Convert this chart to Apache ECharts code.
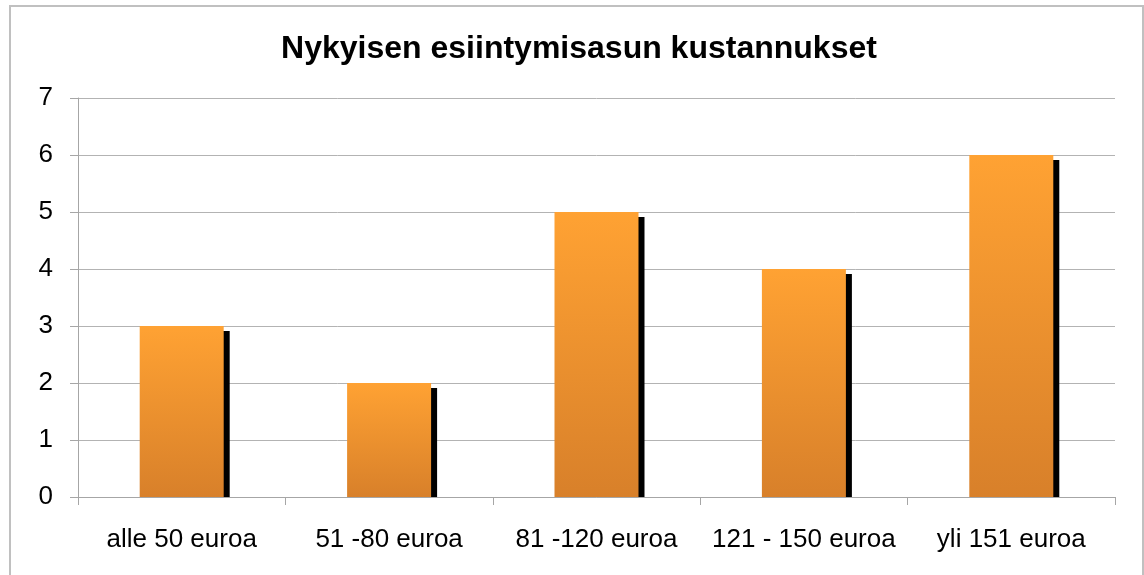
<!DOCTYPE html>
<html>
<head>
<meta charset="utf-8">
<script src="https://cdn.jsdelivr.net/npm/echarts@6/dist/echarts.min.js"></script>
<style>
html,body{margin:0;padding:0;background:#fff;}
#chart{width:1144px;height:575px;}
</style>
</head>
<body>
<div id="chart"></div>
<script>
const titleText = 'Nykyisen esiintymisasun kustannukset';
const categories = ['alle 50 euroa', '51 -80 euroa', '81 -120 euroa', '121 - 150 euroa', 'yli 151 euroa'];
const values = [3, 2, 5, 4, 6];
const yTicks = [0, 1, 2, 3, 4, 5, 6, 7];

const FONT = "'Liberation Sans', Arial, sans-serif";
const chart = echarts.init(document.getElementById('chart'));

const shadowData = values.map((v, i) => [i, v]);

chart.setOption({
  animation: false,
  backgroundColor: '#fff',
  title: {
    text: titleText,
    left: 574,
    textAlign: 'center',
    top: 28,
    textStyle: { fontFamily: FONT, fontSize: 32, fontWeight: 'bold', color: '#000' }
  },
  graphic: [{
    type: 'rect',
    shape: { x: 10, y: 6, width: 1133, height: 620 },
    style: { fill: 'none', stroke: '#c0c0c0', lineWidth: 2 },
    silent: true,
    z: 100
  }],
  grid: { left: 78, right: 29, top: 98, bottom: 78, containLabel: false },
  xAxis: {
    type: 'category',
    data: categories,
    axisLine: { show: true, lineStyle: { color: '#a6a6a6', width: 1 } },
    axisTick: { show: true, length: 8, alignWithLabel: false, lineStyle: { color: '#a6a6a6' } },
    axisLabel: { fontFamily: FONT, fontSize: 26, color: '#000', margin: 30, interval: 0 },
    splitLine: { show: false }
  },
  yAxis: {
    type: 'value',
    min: yTicks[0],
    max: yTicks[yTicks.length - 1],
    interval: 1,
    axisLine: { show: true, lineStyle: { color: '#a6a6a6', width: 1 } },
    axisTick: { show: true, length: 8, inside: false, lineStyle: { color: '#a6a6a6' } },
    axisLabel: { fontFamily: FONT, fontSize: 26, color: '#000', margin: 25 },
    splitLine: { show: true, lineStyle: { color: '#b3b3b3', width: 1 } }
  },
  series: [
    {
      name: 'varjo',
      type: 'custom',
      z: 1,
      data: shadowData,
      encode: { x: 0, y: 1 },
      renderItem: function (params, api) {
        const top = api.coord([api.value(0), api.value(1)]);
        const base = api.coord([api.value(0), 0]);
        const bw = api.size([1, 0])[0] * 0.405;
        return {
          type: 'rect',
          shape: {
            x: top[0] - bw / 2 + 6,
            y: top[1] + 5,
            width: bw,
            height: base[1] - top[1] - 5
          },
          style: { fill: '#000' }
        };
      }
    },
    {
      name: 'kustannukset',
      type: 'bar',
      z: 2,
      data: values,
      barWidth: '40.5%',
      itemStyle: {
        color: new echarts.graphic.LinearGradient(0, 0, 0, 1, [
          { offset: 0, color: '#FFA233' },
          { offset: 1, color: '#D8802A' }
        ])
      }
    }
  ]
});
</script>
</body>
</html>
